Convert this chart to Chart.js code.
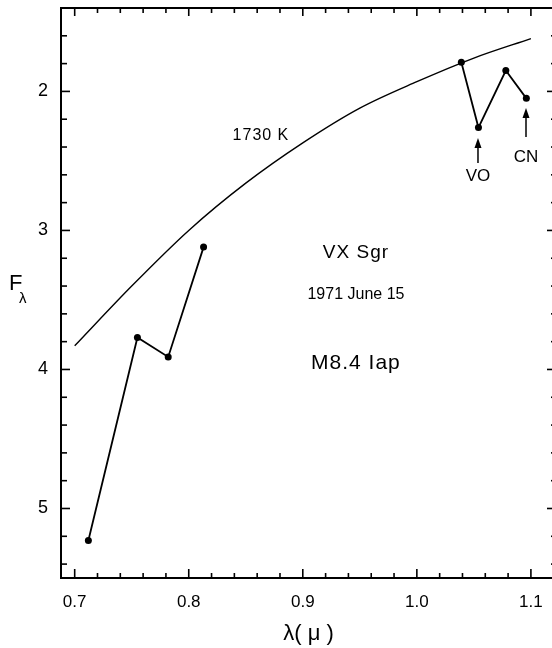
<!DOCTYPE html>
<html><head><meta charset="utf-8">
<script src="https://cdn.jsdelivr.net/npm/chart.js@4"></script>
<style>
html,body{margin:0;padding:0;background:#fff;overflow:hidden;width:552px;height:648px}
#wrap{width:560px;height:648px}
canvas{display:block;background:#fff}
</style>
</head><body><div id="wrap"><canvas id="c" width="560" height="648"></canvas></div>
<script>
// Observed photometry (wavelength in microns, F_lambda)
const wavelengths = [0.712, 0.755, 0.782, 0.813, 1.039, 1.054, 1.078, 1.096];
const fluxes      = [5.23, 3.77, 3.91, 3.12, 1.79, 2.26, 1.85, 2.05];
// which connected group each point belongs to (optical / near-infrared)
const groups      = [0, 0, 0, 0, 1, 1, 1, 1];
// 1730 K blackbody curve
const curveWavelengths = [0.70, 0.75, 0.80, 0.85, 0.90, 0.95, 1.00, 1.05, 1.10];
const curveFluxes      = [3.83, 3.40, 3.00, 2.66, 2.37, 2.12, 1.93, 1.76, 1.62];
// Tick labels
const xMajorTicks = [0.7, 0.8, 0.9, 1.0, 1.1];
const xTickLabels = ['0.7', '0.8', '0.9', '1.0', '1.1'];
const yMajorTicks = [2, 3, 4, 5];
const yTickLabels = ['2', '3', '4', '5'];

const X_MIN = 0.688, X_MAX = 1.122, Y_MIN = 1.4, Y_MAX = 5.5;
const FONT = "'Liberation Sans', Arial, Helvetica, sans-serif";

const xTickVals = []; for (let i = 0; i <= 21; i++) xTickVals.push(+(0.70 + i * 0.02).toFixed(2));
const yTickVals = []; for (let i = 1; i <= 20; i++) yTickVals.push(+(1.4 + i * 0.2).toFixed(1));

const near = (a, b) => Math.abs(a - b) < 1e-6;
const majorIndex = (arr, v) => arr.findIndex(m => near(m, v));

const annotations = [
  {text: '1730 K', x: 0.8633, y: 2.321, size: 16, spacing: '1px'},
  {text: 'VX Sgr', x: 0.9466, y: 3.162, size: 19, spacing: '1px'},
  {text: '1971 June 15', x: 0.9466, y: 3.464, size: 16, spacing: '0px'},
  {text: 'M8.4 Iap', x: 0.9466, y: 3.954, size: 21, spacing: '1px'},
  {text: 'VO', x: 1.0536, y: 2.608, size: 17, spacing: '0px'},
  {text: 'CN', x: 1.0957, y: 2.472, size: 17, spacing: '0px'}
];
const arrows = [
  {x: 1.0536, yTail: 2.515, yTip: 2.335},
  {x: 1.0957, yTail: 2.328, yTip: 2.119}
];

const innerTicks = {
  id: 'innerTicks',
  afterDraw(chart) {
    const ctx = chart.ctx, a = chart.chartArea, s = chart.scales;
    ctx.save();
    ctx.strokeStyle = '#000';
    ctx.lineWidth = 1.6;
    const line = (x1, y1, x2, y2) => { ctx.beginPath(); ctx.moveTo(x1, y1); ctx.lineTo(x2, y2); ctx.stroke(); };
    xTickVals.forEach(v => {
      const px = s.x.getPixelForValue(v);
      const major = majorIndex(xMajorTicks, v) >= 0;
      line(px, a.bottom, px, a.bottom - (major ? 9 : 5));
      line(px, a.top, px, a.top + (major ? 8 : 5));
    });
    yTickVals.forEach(v => {
      const py = s.y.getPixelForValue(v);
      const major = majorIndex(yMajorTicks, v) >= 0;
      line(a.left, py, a.left + (major ? 9 : 6), py);
      line(a.right, py, a.right - (major ? 9 : 5), py);
    });
    ctx.restore();
  }
};

const annotate = {
  id: 'annotate',
  afterDatasetsDraw(chart) {
    const ctx = chart.ctx, s = chart.scales, a = chart.chartArea;
    ctx.save();
    ctx.fillStyle = '#000';
    ctx.strokeStyle = '#000';
    ctx.textAlign = 'center';
    ctx.textBaseline = 'middle';
    annotations.forEach(t => {
      ctx.font = t.size + 'px ' + FONT;
      ctx.letterSpacing = t.spacing;
      ctx.fillText(t.text, s.x.getPixelForValue(t.x), s.y.getPixelForValue(t.y));
    });
    ctx.letterSpacing = '0px';
    ctx.lineWidth = 1.5;
    arrows.forEach(ar => {
      const px = s.x.getPixelForValue(ar.x);
      const tail = s.y.getPixelForValue(ar.yTail);
      const tip = s.y.getPixelForValue(ar.yTip);
      ctx.beginPath(); ctx.moveTo(px, tail); ctx.lineTo(px, tip + 8); ctx.stroke();
      ctx.beginPath(); ctx.moveTo(px, tip); ctx.lineTo(px - 3.5, tip + 10); ctx.lineTo(px + 3.5, tip + 10); ctx.closePath(); ctx.fill();
    });
    // y-axis title F_lambda (horizontal, as in the original)
    const midY = (a.top + a.bottom) / 2;
    ctx.textAlign = 'left';
    ctx.textBaseline = 'alphabetic';
    ctx.font = '22px ' + FONT;
    ctx.fillText('F', a.left - 52, midY - 3);
    ctx.font = '15px ' + FONT;
    ctx.fillText('λ', a.left - 42, midY + 10);
    ctx.restore();
  }
};

const zeroPad = sc => { sc.paddingLeft = 0; sc.paddingRight = 0; sc.paddingTop = 0; sc.paddingBottom = 0; };
const tickFont = {family: FONT, size: 17};

const pointSets = [0, 1].map(g => ({
  label: g === 0 ? 'VX Sgr optical' : 'VX Sgr near-IR',
  data: wavelengths.map((x, i) => ({x, y: fluxes[i], g: groups[i]})).filter(p => p.g === g),
  showLine: true, borderColor: '#000', borderWidth: 1.8,
  pointRadius: 3.5, pointBackgroundColor: '#000', pointBorderColor: '#000', pointBorderWidth: 0,
  tension: 0
}));

new Chart(document.getElementById('c'), {
  type: 'scatter',
  data: {
    datasets: [
      {
        label: '1730 K',
        data: curveWavelengths.map((x, i) => ({x, y: curveFluxes[i]})),
        showLine: true, borderColor: '#000', borderWidth: 1.4,
        pointRadius: 0, cubicInterpolationMode: 'monotone'
      },
      ...pointSets
    ]
  },
  options: {
    responsive: false, animation: false, devicePixelRatio: 1,
    layout: {padding: {top: 8, right: 4, left: 0, bottom: 0}},
    plugins: {legend: {display: false}, tooltip: {enabled: false}},
    scales: {
      x: {
        type: 'linear', position: 'bottom', min: X_MIN, max: X_MAX,
        afterBuildTicks: sc => { sc.ticks = xTickVals.map(v => ({value: v})); },
        afterFit: sc => { sc.height = 70; zeroPad(sc); },
        grid: {display: true, drawOnChartArea: false, drawTicks: false},
        border: {display: true, color: '#000', width: 2},
        ticks: {
          autoSkip: false, maxRotation: 0, padding: 14, color: '#000', font: tickFont,
          callback: v => { const i = majorIndex(xMajorTicks, v); return i >= 0 ? xTickLabels[i] : ''; }
        },
        title: {display: true, text: 'λ( μ )', color: '#000', font: {family: FONT, size: 22}, padding: {top: 0, bottom: 1}}
      },
      x2: {
        type: 'linear', position: 'top', min: X_MIN, max: X_MAX,
        afterFit: sc => { sc.height = 0; zeroPad(sc); },
        grid: {display: true, drawOnChartArea: false, drawTicks: false},
        border: {display: true, color: '#000', width: 2},
        ticks: {display: false}
      },
      y: {
        type: 'linear', position: 'left', min: Y_MIN, max: Y_MAX, reverse: true,
        afterBuildTicks: sc => { sc.ticks = yTickVals.map(v => ({value: v})); },
        afterFit: sc => { sc.width = 61; zeroPad(sc); },
        grid: {display: true, drawOnChartArea: false, drawTicks: false},
        border: {display: true, color: '#000', width: 2},
        ticks: {
          autoSkip: false, padding: 13, color: '#000', font: {family: FONT, size: 18},
          callback: v => { const i = majorIndex(yMajorTicks, v); return i >= 0 ? yTickLabels[i] : ''; }
        }
      },
      y2: {
        type: 'linear', position: 'right', min: Y_MIN, max: Y_MAX, reverse: true,
        afterFit: sc => { sc.width = 0; zeroPad(sc); },
        grid: {display: true, drawOnChartArea: false, drawTicks: false},
        border: {display: true, color: '#000', width: 2},
        ticks: {display: false}
      }
    }
  },
  plugins: [innerTicks, annotate]
});
</script>
</body></html>
